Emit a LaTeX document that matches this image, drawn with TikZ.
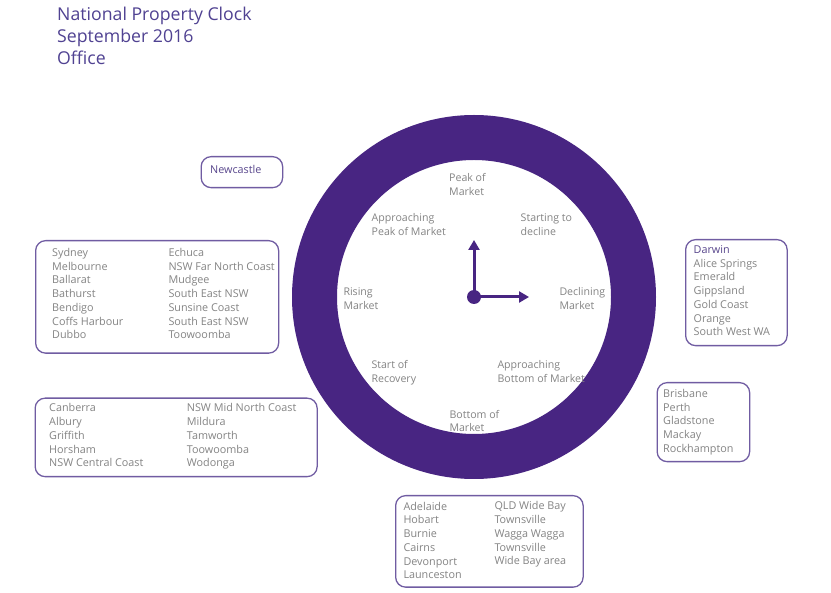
\documentclass[tikz,border=0pt]{standalone}
\usepackage{fontspec}
\setmainfont{Open Sans}
\usetikzlibrary{arrows.meta}
\definecolor{ring}{RGB}{72,37,130}
\definecolor{titlec}{RGB}{80,66,146}
\definecolor{boxc}{RGB}{112,92,162}
\definecolor{txtc}{RGB}{132,132,132}
\definecolor{hilite}{RGB}{88,70,140}
\tikzset{
  listbox/.style={draw=boxc, line width=1.3pt, rounded corners=10pt, anchor=north west, inner sep=0pt},
  listtxt/.style={anchor=base west, inner sep=0pt, align=left, text=txtc, font=\fontsize{10.8}{13.75}\selectfont},
  phase/.style={anchor=base west, inner sep=0pt, align=left, text=txtc, font=\fontsize{10.6}{13.4}\selectfont},
  hand/.style={draw=ring, line width=3pt, -{Triangle[width=11pt,length=10pt]}},
}
\begin{document}
\begin{tikzpicture}[x=1pt,y=-1pt]
\useasboundingbox (0,0) rectangle (831,593);
\fill[white] (0,0) rectangle (831,593);
% title (anchor = baseline of last line)
\node[anchor=base west, inner sep=0pt, align=left, text=titlec, font=\fontsize{17.7}{21.8}\selectfont] (title) at (57,64.3) {National Property Clock\\September 2016\\Office};
% clock ring
\fill[ring, even odd rule] (474,297) circle (182) circle (137);
\node[circle, fill=ring, inner sep=0pt, minimum size=14pt] (hub) at (474,297) {};
\coordinate (hourtip) at (474,240);
\coordinate (minutetip) at (529,297);
\draw[hand] (hub.center) -- (hourtip);
\draw[hand] (hub.center) -- (minutetip);
% phase labels (baseline of second line)
\node[phase] (peak) at (449,195.1) {Peak of\\Market};
\node[phase] (apeak) at (371.5,235.1) {Approaching\\Peak of Market};
\node[phase] (start) at (520.5,235.1) {Starting to\\decline};
\node[phase] (rising) at (343.3,309.1) {Rising\\Market};
\node[phase] (declining) at (559.3,309.1) {Declining\\Market};
\node[phase] (recov) at (371.3,382.4) {Start of\\Recovery};
\node[phase] (abottom) at (497.3,382.4) {Approaching\\Bottom of Market};
\node[phase] (bottom) at (449.3,431.7) {Bottom of\\Market};
% Newcastle
\node[listbox, minimum width=81.5pt, minimum height=31pt] (bnew) at (200.5,156) {};
\node[listtxt, text=hilite] (tnew) at (210,174) {Newcastle};
% big left box
\node[listbox, minimum width=243pt, minimum height=112.5pt] (bleft) at (35,240) {};
\node[listtxt] (tleft1) at (52,339) {Sydney\\Melbourne\\Ballarat\\Bathurst\\Bendigo\\Coffs Harbour\\Dubbo};
\node[listtxt] (tleft2) at (168.3,339) {Echuca\\NSW Far North Coast\\Mudgee\\South East NSW\\Sunsine Coast\\South East NSW\\Toowoomba};
% lower left box
\node[listbox, minimum width=282pt, minimum height=78.5pt] (blow) at (34.5,397.5) {};
\node[listtxt] (tlow1) at (49,467) {Canberra\\Albury\\Griffith\\Horsham\\NSW Central Coast};
\node[listtxt] (tlow2) at (186.7,467) {NSW Mid North Coast\\Mildura\\Tamworth\\Toowoomba\\Wodonga};
% Darwin box
\node[listbox, minimum width=101.5pt, minimum height=106pt] (bdar) at (685,239) {};
\node[listtxt] (tdar) at (693.5,335.8) {\textcolor{hilite}{Darwin}\\Alice Springs\\Emerald\\Gippsland\\Gold Coast\\Orange\\South West WA};
% Brisbane box
\node[listbox, minimum width=92.5pt, minimum height=79pt] (bbris) at (656.5,382) {};
\node[listtxt] (tbris) at (663,452.3) {Brisbane\\Perth\\Gladstone\\Mackay\\Rockhampton};
% Adelaide box
\node[listbox, minimum width=187.5pt, minimum height=91.5pt] (bade) at (395,495) {};
\node[listtxt] (tade1) at (403.3,578.8) {Adelaide\\Hobart\\Burnie\\Cairns\\Devonport\\Launceston};
\node[listtxt] (tade2) at (494.3,564.8) {QLD Wide Bay\\Townsville\\Wagga Wagga\\Townsville\\Wide Bay area};
\end{tikzpicture}
\end{document}
